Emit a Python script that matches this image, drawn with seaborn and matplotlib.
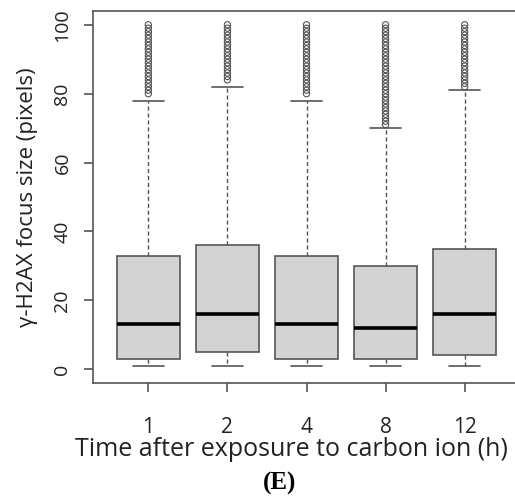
import pandas as pd
import seaborn as sns
import matplotlib.pyplot as plt
import numpy as np

# Time points (h) after carbon ion exposure
times = ["1", "2", "4", "8", "12"]

# Box statistics (focus size, pixels)
q1 = [3, 5, 3, 3, 4]
medians = [13, 16, 13, 12, 16]
q3 = [33, 36, 33, 30, 35]
whisker_low = [1, 1, 1, 1, 1]
whisker_high = [78, 82, 78, 70, 81]

# Outliers above the upper whisker
outliers_1 = list(range(80, 101))
outliers_2 = list(range(84, 101))
outliers_4 = list(range(80, 101))
outliers_8 = list(range(71, 101))
outliers_12 = list(range(82, 101))
outliers = [outliers_1, outliers_2, outliers_4, outliers_8, outliers_12]

sns.set_style("ticks")
plt.rcParams['font.family'] = ['Open Sans', 'DejaVu Sans']

edge = "#555555"
text_col = "#222222"

fig = plt.figure(figsize=(5.15, 4.97), dpi=100)
fig.set_facecolor("white")
ax = fig.add_axes([93 / 515, 114 / 497, 427 / 515, 372 / 497])

stats = []
for i, t in enumerate(times):
    stats.append({
        "label": t, "q1": q1[i], "med": medians[i], "q3": q3[i],
        "whislo": whisker_low[i], "whishi": whisker_high[i], "fliers": [],
    })

ax.bxp(
    stats, positions=np.arange(len(times)), widths=0.8, patch_artist=True,
    showfliers=False,
    boxprops=dict(facecolor="#d3d3d3", edgecolor=edge, linewidth=1.2),
    medianprops=dict(color="black", linewidth=2.6),
    whiskerprops=dict(color=edge, linewidth=1.0, linestyle=(0, (3, 2))),
    capprops=dict(color=edge, linewidth=1.2),
    capwidths=0.4,
)

# outliers as open circles
out_df = pd.DataFrame({
    "time": np.repeat(times, [len(o) for o in outliers]),
    "size": np.concatenate(outliers),
})
sns.stripplot(
    data=out_df, x="time", y="size", order=times, jitter=False,
    marker="o", size=4.5, facecolor="none", edgecolor=edge, linewidth=0.8,
    color="none", ax=ax,
)

ax.set_xlim(-0.7, 4.7)
ax.set_ylim(-4, 104)
ax.set_xticks(np.arange(len(times)))
ax.set_xticklabels(times)
ax.set_yticks([0, 20, 40, 60, 80, 100])
ax.set_yticklabels(["0", "20", "40", "60", "80", "100"], rotation=90, va="center")

for s in ax.spines.values():
    s.set_visible(True)
    s.set_color(edge)
    s.set_linewidth(1.2)

ax.tick_params(axis="x", length=6.5, width=1.2, color=edge, pad=18,
               labelsize=15, labelcolor=text_col)
ax.tick_params(axis="y", length=6.5, width=1.2, color=edge, pad=9,
               labelsize=14, labelcolor=text_col)

ax.set_xlabel("Time after exposure to carbon ion (h)", fontsize=18,
              color=text_col)
ax.xaxis.set_label_coords(0.4637, -0.145)
ax.set_ylabel("γ-H2AX focus size (pixels)", fontsize=16, color=text_col,
              labelpad=11)

fig.text(280 / 515, 1 - 483 / 497, "(E)", ha="center", va="center",
         fontsize=18, fontweight="bold", family="Liberation Serif",
         color="black")

plt.savefig("out.png", dpi=100, facecolor="white")
